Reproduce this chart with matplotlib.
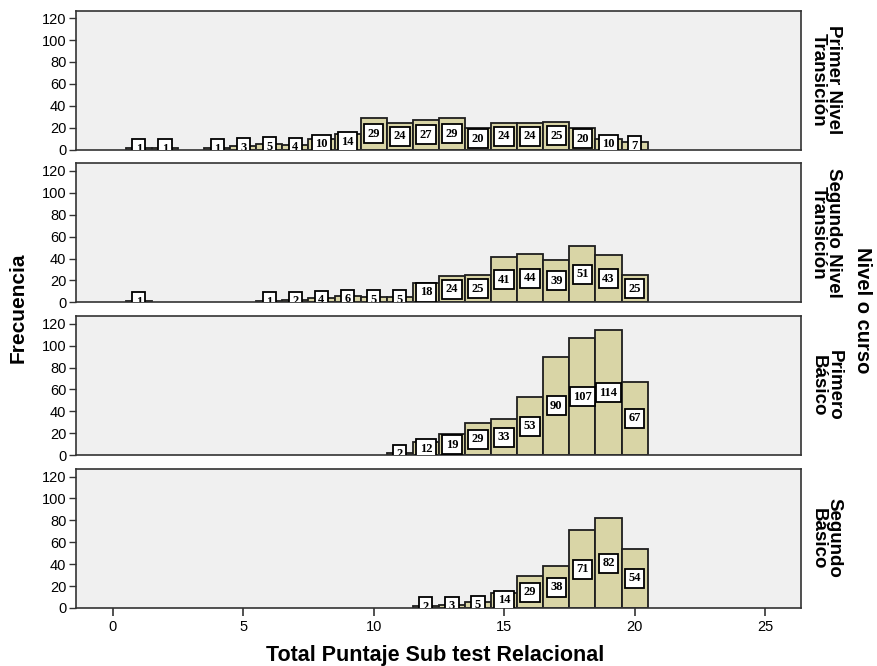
import matplotlib
matplotlib.use("Agg")
import numpy as np
import matplotlib.pyplot as plt

# scores (x) and frequencies for each course level
x_pnt = [1, 2, 4, 5, 6, 7, 8, 9, 10, 11, 12, 13, 14, 15, 16, 17, 18, 19, 20]
f_pnt = [1, 1, 1, 3, 5, 4, 10, 14, 29, 24, 27, 29, 20, 24, 24, 25, 20, 10, 7]

x_snt = [1, 6, 7, 8, 9, 10, 11, 12, 13, 14, 15, 16, 17, 18, 19, 20]
f_snt = [1, 1, 2, 4, 6, 5, 5, 18, 24, 25, 41, 44, 39, 51, 43, 25]

x_pb = [11, 12, 13, 14, 15, 16, 17, 18, 19, 20]
f_pb = [2, 12, 19, 29, 33, 53, 90, 107, 114, 67]

x_sb = [12, 13, 14, 15, 16, 17, 18, 19, 20]
f_sb = [2, 3, 5, 14, 29, 38, 71, 82, 54]

niveles = ["Primer Nivel\nTransición", "Segundo Nivel\nTransición",
           "Primero\nBásico", "Segundo\nBásico"]
series = [(x_pnt, f_pnt), (x_snt, f_snt), (x_pb, f_pb), (x_sb, f_sb)]

W, H = 878, 666
fig = plt.figure(figsize=(W / 100, H / 100), dpi=100)
plt.rcParams['font.family'] = ['Liberation Sans', 'DejaVu Sans']

bar_col = '#D9D5A6'
edge_col = '#1e1e1e'
left, right = 76, 801
ph = 139
for i, (name, (xs, fs)) in enumerate(zip(niveles, series)):
    top = 10.5 + i * 152.8
    ax = fig.add_axes([left / W, 1 - (top + ph) / H, (right - left) / W, ph / H])
    ax.set_facecolor('#F0F0F0')
    ax.bar(xs, fs, width=1.0, color=bar_col, edgecolor=edge_col, linewidth=1.3, zorder=2)
    for xv, fv in zip(xs, fs):
        ax.text(xv, fv / 2, str(fv), ha='center', va='center', fontsize=9,
                fontweight='bold', family='Liberation Serif', zorder=3, clip_on=True,
                bbox=dict(boxstyle='square,pad=0.28', fc='white', ec='black', lw=1.3))
    ax.set_xlim(-1.41, 26.38)
    ax.set_ylim(0, 127)
    ax.set_yticks(np.arange(0, 121, 20))
    ax.tick_params(axis='y', labelsize=10.5, length=5, width=1, color='#333333', pad=2)
    ax.tick_params(axis='x', labelsize=10.5, length=6, width=1.2, color='#333333', pad=3)
    if i < 3:
        ax.set_xticks([])
    else:
        ax.set_xticks(np.arange(0, 26, 5))
    for s in ax.spines.values():
        s.set_linewidth(1.2)
        s.set_color('#333333')
    fig.text(826 / W, 1 - (top + ph / 2) / H, name, rotation=-90, ha='center', va='center',
             multialignment='center', fontsize=13.5, fontweight='bold', linespacing=0.9)

fig.text(863 / W, 1 - 310 / H, "Nivel o curso", rotation=-90, ha='center', va='center',
         fontsize=14.5, fontweight='bold')
fig.text(18 / W, 1 - 308 / H, "Frecuencia", rotation=90, ha='center', va='center',
         fontsize=15, fontweight='bold')
fig.text(435 / W, 1 - 656 / H, "Total Puntaje Sub test Relacional", ha='center', va='center',
         fontsize=15.5, fontweight='bold')

fig.savefig("out.png", dpi=100)
